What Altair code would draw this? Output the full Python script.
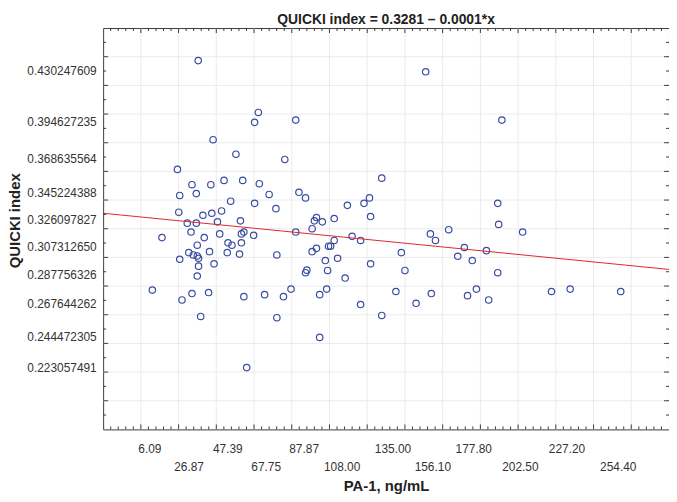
import altair as alt
import pandas as pd

# PA-1 (ng/mL) and QUICKI index
pa1 = [30.4, 62.3, 60.3, 82.1, 38.3, 50.4, 76.3, 19.4, 127.7, 27.1,
       37.1, 44.1, 54.0, 62.8, 20.6, 29.4, 68.0, 83.8, 87.3, 121.2,
       118.3, 47.6, 60.3, 109.5, 71.6, 20.1, 32.9, 37.6, 42.8, 121.8,
       24.6, 29.4, 40.6, 52.8, 93.1, 92.0, 96.2, 102.5, 90.8, 82.1,
       26.6, 54.6, 53.3, 41.8, 59.8, 11.2, 33.6, 112.0, 116.5, 102.5,
       46.2, 48.3, 53.3, 29.9, 99.5, 100.6, 93.1, 90.8, 138.1, 25.4,
       27.8, 29.9, 36.4, 45.8, 52.3, 72.1, 20.6, 30.6, 104.3, 97.8,
       38.8, 121.8, 30.6, 88.0, 87.3, 99.0, 140.0, 29.9, 108.3, 6.09,
       79.6, 98.5, 135.2, 27.1, 35.9, 21.8, 54.6, 65.6, 75.6, 94.8,
       116.5, 31.7, 72.1, 127.7, 94.8, 56.1, 151.0, 191.4, 189.2, 189.7,
       202.4, 153.5, 163.2, 156.2, 171.5, 183.2, 168.0, 175.7, 189.2, 154.0,
       145.9, 173.2, 177.9, 184.4, 217.7, 227.6, 254.4]
quicki = [0.4373, 0.4011, 0.3942, 0.3958, 0.3821, 0.3720, 0.3683, 0.3614, 0.3553, 0.3507,
          0.3507, 0.3537, 0.3537, 0.3514, 0.3432, 0.3445, 0.3439, 0.3454, 0.3415, 0.3415,
          0.3377, 0.3392, 0.3377, 0.3363, 0.3340, 0.3315, 0.3294, 0.3308, 0.3324, 0.3285,
          0.3239, 0.3239, 0.3248, 0.3255, 0.3278, 0.3255, 0.3248, 0.3271, 0.3200, 0.3177,
          0.3177, 0.3177, 0.3164, 0.3164, 0.3154, 0.3138, 0.3138, 0.3147, 0.3118, 0.3118,
          0.3102, 0.3085, 0.3102, 0.3085, 0.3078, 0.3078, 0.3063, 0.3040, 0.3033, 0.3033,
          0.3017, 0.3010, 0.3040, 0.3033, 0.3023, 0.3017, 0.2987, 0.2994, 0.2994, 0.2978,
          0.2955, 0.2955, 0.2939, 0.2911, 0.2893, 0.2909, 0.2909, 0.2870, 0.2856, 0.2772,
          0.2779, 0.2779, 0.2762, 0.2748, 0.2755, 0.2703, 0.2726, 0.2740, 0.2726, 0.2740,
          0.2671, 0.2588, 0.2579, 0.2595, 0.2442, 0.2231, 0.4295, 0.3958, 0.3377, 0.3230,
          0.3177, 0.3164, 0.3193, 0.3118, 0.3069, 0.3047, 0.3008, 0.2978, 0.2893, 0.2748,
          0.2680, 0.2733, 0.2779, 0.2703, 0.2762, 0.2779, 0.2762]

# regression line end points (QUICKI index = 0.3281 - 0.0001*x)
fit_x = [-20, 280]
fit_y = [0.3308, 0.2916]

# axis labels
x_tick_labels = [6.09, 26.87, 47.39, 67.75, 87.87, 108.00, 135.00, 156.10,
                 177.80, 202.50, 227.20, 254.40]
x_second_row = [26.87, 67.75, 108.00, 156.10, 202.50, 254.40]
y_tick_labels = [0.430247609, 0.394627235, 0.368635564, 0.345224388, 0.326097827,
                 0.307312650, 0.287756326, 0.267644262, 0.244472305, 0.223057491]

# grid / tick positions
x_grid = list(range(0, 261, 20))
x_minor = [v for v in range(-16, 280, 4) if v % 20 != 0]
y_grid = [round(0.20 + 0.02 * i, 2) for i in range(13)]
y_minor = [round(0.19 + 0.02 * i, 2) for i in range(14)]

W, H = 571, 405
FONT = "Liberation Sans"
FRAME = "#3c3c3c"
TXT = "#333333"

xs = alt.Scale(domain=[-20, 280], nice=False, zero=False)
ys = alt.Scale(domain=[0.18, 0.46], nice=False, zero=False)

points_df = pd.DataFrame({"x": pa1, "y": quicki})
fit_df = pd.DataFrame({"x": fit_x, "y": fit_y})

second = ",".join(str(v) for v in x_second_row)
x_axis = alt.Axis(
    values=x_tick_labels, format=".2f",
    labelExpr=f"indexof([{second}], datum.value) >= 0 ? ['', datum.label] : datum.label",
    grid=False, ticks=False, domain=False,
    labelPadding=14, labelLineHeight=18.5, labelOffset=-3,
    labelFont=FONT, labelFontSize=12, labelColor=TXT,
    labelOverlap=False, labelFlush=False,
    title="PA-1, ng/mL", titleFont=FONT, titleFontSize=15, titleFontWeight="bold",
    titleColor="#222222", titleY=57, titleBaseline="middle",
)
y_axis = alt.Axis(
    values=y_tick_labels, format=".9f",
    grid=False, ticks=False, domain=False,
    labelPadding=7, labelFont=FONT, labelFontSize=12, labelColor=TXT,
    labelOverlap=False, labelFlush=False,
    title="QUICKI index", titleFont=FONT, titleFontSize=15, titleFontWeight="bold",
    titleColor="#222222", titleAngle=270, titleX=-89, titleY=194,
    titleBaseline="middle", titleAlign="center",
)


def X(field):
    return alt.X(field, type="quantitative", scale=xs, axis=x_axis)


def Y(field):
    return alt.Y(field, type="quantitative", scale=ys, axis=y_axis)


vgrid = alt.Chart(pd.DataFrame({"g": x_grid})).mark_rule(
    color="#ebebeb", strokeWidth=1).encode(x=X("g"))
hgrid = alt.Chart(pd.DataFrame({"g": y_grid})).mark_rule(
    color="#ebebeb", strokeWidth=1).encode(y=Y("g"))

points = alt.Chart(points_df).mark_point(
    shape="circle", filled=False, color="#3a4ca0", size=42, strokeWidth=1.2, opacity=1
).encode(x=X("x"), y=Y("y"))

fit = alt.Chart(fit_df).mark_line(color="#e0262c", strokeWidth=1).encode(x=X("x"), y=Y("y"))


def xticks(vals, length):
    d = pd.DataFrame({"t": vals})
    top = alt.Chart(d).mark_rule(color=FRAME, strokeWidth=1).encode(
        x=X("t"), y=alt.value(0), y2=alt.value(length))
    bot = alt.Chart(d).mark_rule(color=FRAME, strokeWidth=1).encode(
        x=X("t"), y=alt.value(H), y2=alt.value(H - length))
    return [top, bot]


def yticks(vals, length):
    d = pd.DataFrame({"t": vals})
    left = alt.Chart(d).mark_rule(color=FRAME, strokeWidth=1).encode(
        y=Y("t"), x=alt.value(0), x2=alt.value(length))
    right = alt.Chart(d).mark_rule(color=FRAME, strokeWidth=1).encode(
        y=Y("t"), x=alt.value(W), x2=alt.value(W - length))
    return [left, right]


layers = [vgrid, hgrid, points, fit]
layers += xticks(x_grid, 5) + xticks(x_minor, 3)
layers += yticks(y_grid, 5) + yticks(y_minor, 3)

chart = alt.layer(*layers).properties(
    width=W, height=H,
    autosize=alt.AutoSizeParams(type="none"),
    padding={"left": 96, "top": 18, "right": 0, "bottom": 68},
    title=alt.Title("QUICKI index = 0.3281 \u2013 0.0001*x", font=FONT, fontSize=14,
                    fontWeight="bold", color="#222222", anchor="middle", offset=1),
).configure_view(stroke=FRAME, strokeWidth=1)

chart.save("out.html", embed_options={"renderer": "svg", "actions": False})
